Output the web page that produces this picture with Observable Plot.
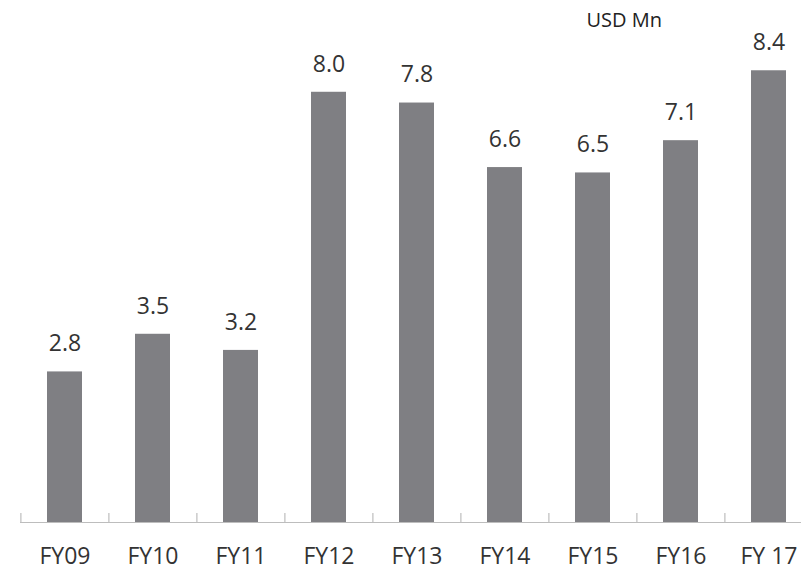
<!DOCTYPE html>
<html>
<head>
<meta charset="utf-8">
<script src="https://cdn.jsdelivr.net/npm/d3@7"></script>
<script src="https://cdn.jsdelivr.net/npm/@observablehq/plot@0.6"></script>
<style>
  html, body { margin: 0; padding: 0; background: #fff; }
  #chart svg { display: block; }
</style>
</head>
<body>
<div id="chart"></div>
<script>
const categories = ["FY09", "FY10", "FY11", "FY12", "FY13", "FY14", "FY15", "FY16", "FY 17"];
const values = [2.8, 3.5, 3.2, 8.0, 7.8, 6.6, 6.5, 7.1, 8.4];
const valueLabels = ["2.8", "3.5", "3.2", "8.0", "7.8", "6.6", "6.5", "7.1", "8.4"];
const unitLabel = "USD Mn";

const data = categories.map((c, i) => ({ cat: c, value: values[i], label: valueLabels[i] }));

const W = 801, H = 570;
const xRange = [20, 814];
const step = (xRange[1] - xRange[0]) / categories.length;
const font = "'Open Sans', sans-serif";

const chart = Plot.plot({
  width: W,
  height: H,
  marginLeft: 20,
  marginRight: 0,
  marginTop: 38,
  marginBottom: 48,
  style: { fontFamily: font, background: "#fff", color: "#333", overflow: "hidden" },
  x: { domain: categories, range: xRange, paddingInner: 0.6, paddingOuter: 0.3, align: 0.5 },
  y: { domain: [0, 9], axis: null },
  marks: [
    Plot.barY(data, { x: "cat", y: "value", fill: "#7f7f83" }),
    Plot.ruleY([0], { stroke: "#bdbdbd", strokeWidth: 1.2 }),
    Plot.ruleX(categories, { x: d => d, dx: -step / 2, y1: 0, y2: 0, insetTop: -9, stroke: "#bdbdbd", strokeWidth: 1.2 }),
    Plot.ruleX(categories.slice(-1), { x: d => d, dx: step / 2, y1: 0, y2: 0, insetTop: -9, stroke: "#bdbdbd", strokeWidth: 1.2 }),
    Plot.axisX({ tickSize: 0, tickPadding: 25, fontSize: 23, fill: "#333", label: null }),
    Plot.text(data, { x: "cat", y: "value", text: "label", dy: -28, fontSize: 23, fill: "#333" }),
    Plot.text([unitLabel], { frameAnchor: "top-left", dx: 566, dy: -26, textAnchor: "start", fontSize: 20, fill: "#222" })
  ]
});

document.getElementById("chart").appendChild(chart);
</script>
</body>
</html>
